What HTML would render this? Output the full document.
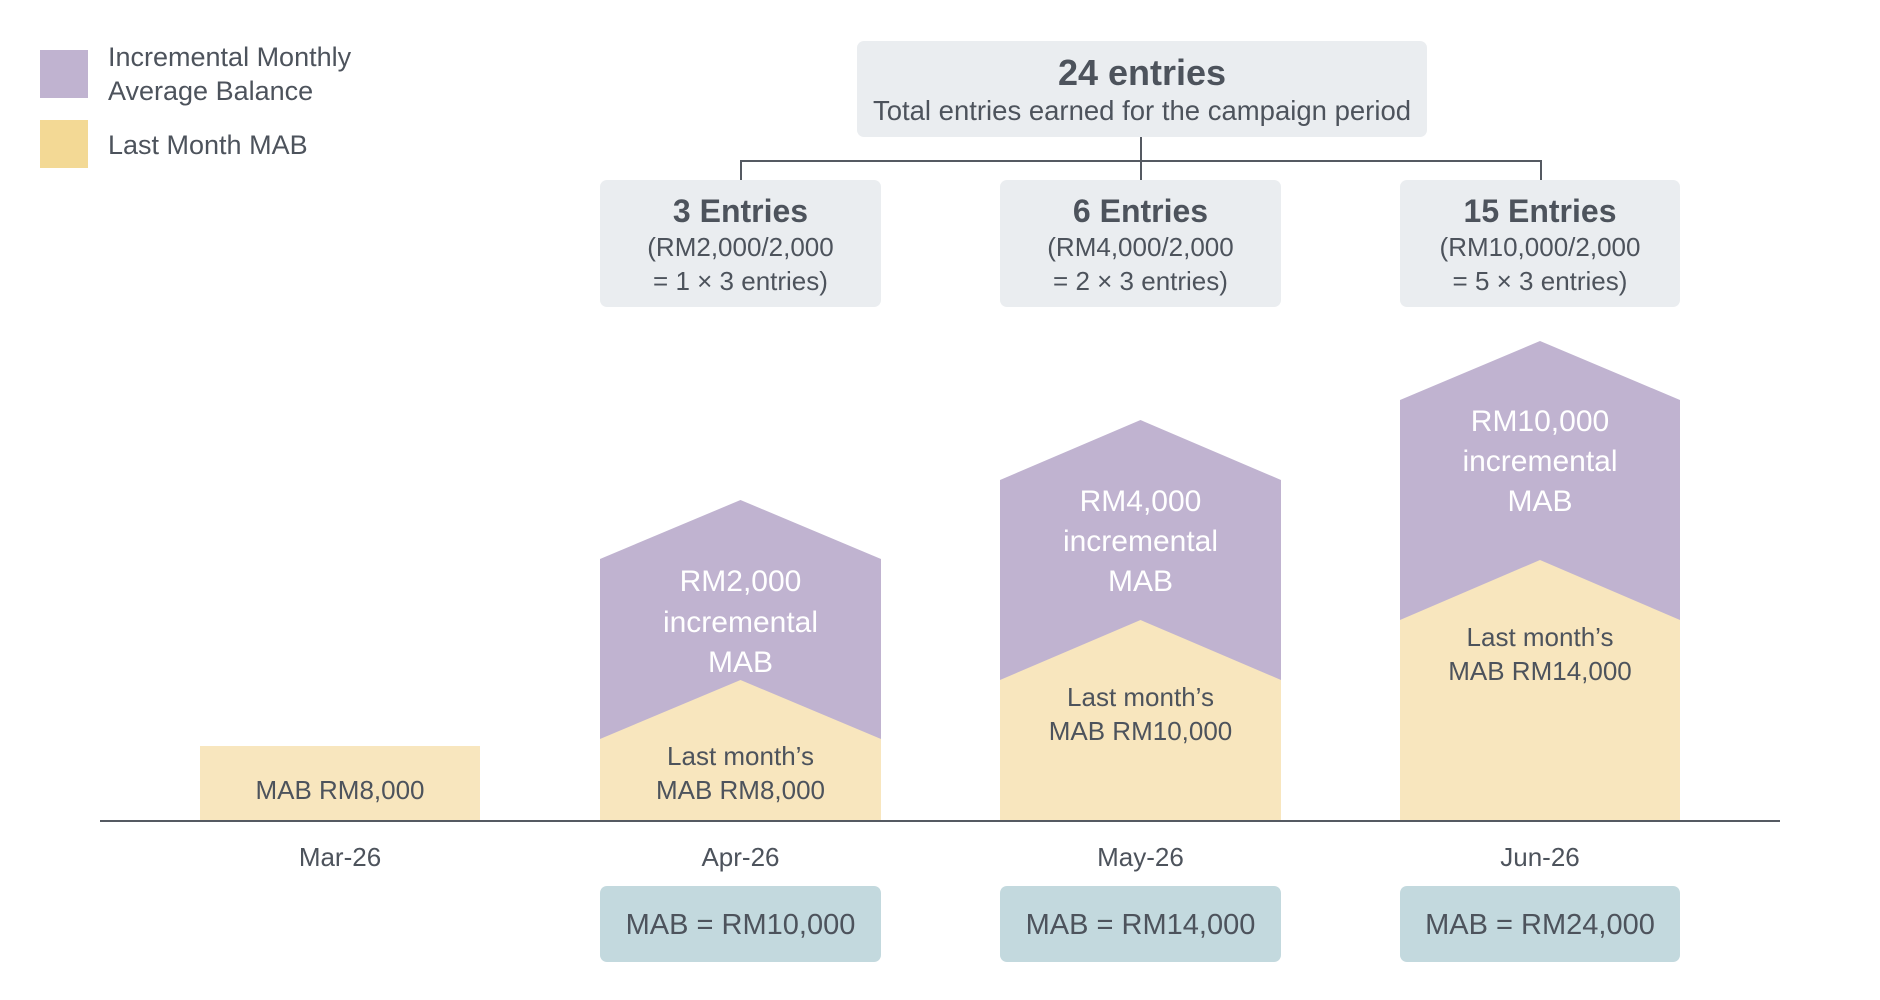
<!DOCTYPE html>
<html><head><meta charset="utf-8"><style>
html,body{margin:0;padding:0;background:#fff}
svg{display:block}
text{font-family:"Liberation Sans",sans-serif;fill:#4d535c}
</style></head><body>
<svg width="1880" height="1000" viewBox="0 0 1880 1000" xmlns="http://www.w3.org/2000/svg">
<!-- legend -->
<rect x="40" y="50" width="48" height="48" fill="#c0b3d0"/>
<rect x="40" y="120" width="48" height="48" fill="#f3d995"/>
<text x="108" y="66" font-size="27">Incremental Monthly</text>
<text x="108" y="100" font-size="27">Average Balance</text>
<text x="108" y="154" font-size="27">Last Month MAB</text>

<!-- total box -->
<rect x="857" y="41" width="570" height="96" rx="7" fill="#eaedf0"/>
<text x="1142" y="85" font-size="36" font-weight="bold" text-anchor="middle">24 entries</text>
<text x="1142" y="120" font-size="27.5" text-anchor="middle">Total entries earned for the campaign period</text>

<!-- connectors -->
<path d="M1141 137 V161 M741 161 H1542 M741 160 V180 M1141 161 V180 M1541 160 V180" stroke="#555a62" stroke-width="2" fill="none"/>

<!-- entry boxes -->
<g>
<rect x="600" y="180" width="281" height="127" rx="7" fill="#eaedf0"/>
<text x="740.5" y="222" font-size="32" font-weight="bold" text-anchor="middle">3 Entries</text>
<text x="740.5" y="256" font-size="26" text-anchor="middle">(RM2,000/2,000</text>
<text x="740.5" y="290" font-size="26" text-anchor="middle">= 1 × 3 entries)</text>
<rect x="1000" y="180" width="281" height="127" rx="7" fill="#eaedf0"/>
<text x="1140.5" y="222" font-size="32" font-weight="bold" text-anchor="middle">6 Entries</text>
<text x="1140.5" y="256" font-size="26" text-anchor="middle">(RM4,000/2,000</text>
<text x="1140.5" y="290" font-size="26" text-anchor="middle">= 2 × 3 entries)</text>
<rect x="1400" y="180" width="280" height="127" rx="7" fill="#eaedf0"/>
<text x="1540" y="222" font-size="32" font-weight="bold" text-anchor="middle">15 Entries</text>
<text x="1540" y="256" font-size="26" text-anchor="middle">(RM10,000/2,000</text>
<text x="1540" y="290" font-size="26" text-anchor="middle">= 5 × 3 entries)</text>
</g>

<!-- Mar -->
<rect x="200" y="746" width="280" height="75" fill="#f8e6be"/>
<text x="340" y="799" font-size="26" text-anchor="middle">MAB RM8,000</text>

<!-- Apr -->
<polygon points="600,559 740.5,500 881,559 881,821 600,821" fill="#c0b3d0"/>
<polygon points="600,739 740.5,680 881,739 881,821 600,821" fill="#f8e6be"/>
<g font-size="30" text-anchor="middle">
<text x="740.5" y="591" style="fill:#fff">RM2,000</text>
<text x="740.5" y="632" style="fill:#fff">incremental</text>
<text x="740.5" y="672" style="fill:#fff">MAB</text>
</g>
<text x="740.5" y="765" font-size="26" text-anchor="middle">Last month’s</text>
<text x="740.5" y="799" font-size="26" text-anchor="middle">MAB RM8,000</text>

<!-- May -->
<polygon points="1000,480 1140.5,420 1281,480 1281,821 1000,821" fill="#c0b3d0"/>
<polygon points="1000,680 1140.5,620 1281,680 1281,821 1000,821" fill="#f8e6be"/>
<g font-size="30" text-anchor="middle">
<text x="1140.5" y="511" style="fill:#fff">RM4,000</text>
<text x="1140.5" y="551" style="fill:#fff">incremental</text>
<text x="1140.5" y="591" style="fill:#fff">MAB</text>
</g>
<text x="1140.5" y="706" font-size="26" text-anchor="middle">Last month’s</text>
<text x="1140.5" y="740" font-size="26" text-anchor="middle">MAB RM10,000</text>

<!-- Jun -->
<polygon points="1400,400 1540,341 1680,400 1680,821 1400,821" fill="#c0b3d0"/>
<polygon points="1400,620 1540,560 1680,620 1680,821 1400,821" fill="#f8e6be"/>
<g font-size="30" text-anchor="middle">
<text x="1540" y="431" style="fill:#fff">RM10,000</text>
<text x="1540" y="471" style="fill:#fff">incremental</text>
<text x="1540" y="511" style="fill:#fff">MAB</text>
</g>
<text x="1540" y="646" font-size="26" text-anchor="middle">Last month’s</text>
<text x="1540" y="680" font-size="26" text-anchor="middle">MAB RM14,000</text>

<!-- baseline -->
<line x1="100" y1="821" x2="1780" y2="821" stroke="#555a62" stroke-width="2"/>

<!-- months -->
<g font-size="26" text-anchor="middle">
<text x="340" y="866">Mar-26</text>
<text x="740.5" y="866">Apr-26</text>
<text x="1140.5" y="866">May-26</text>
<text x="1540" y="866">Jun-26</text>
</g>

<!-- bottom boxes -->
<rect x="600" y="886" width="281" height="76" rx="7" fill="#c3d9de"/>
<rect x="1000" y="886" width="281" height="76" rx="7" fill="#c3d9de"/>
<rect x="1400" y="886" width="280" height="76" rx="7" fill="#c3d9de"/>
<g font-size="29" text-anchor="middle">
<text x="740.5" y="934">MAB = RM10,000</text>
<text x="1140.5" y="934">MAB = RM14,000</text>
<text x="1540" y="934">MAB = RM24,000</text>
</g>
</svg>
</body></html>
